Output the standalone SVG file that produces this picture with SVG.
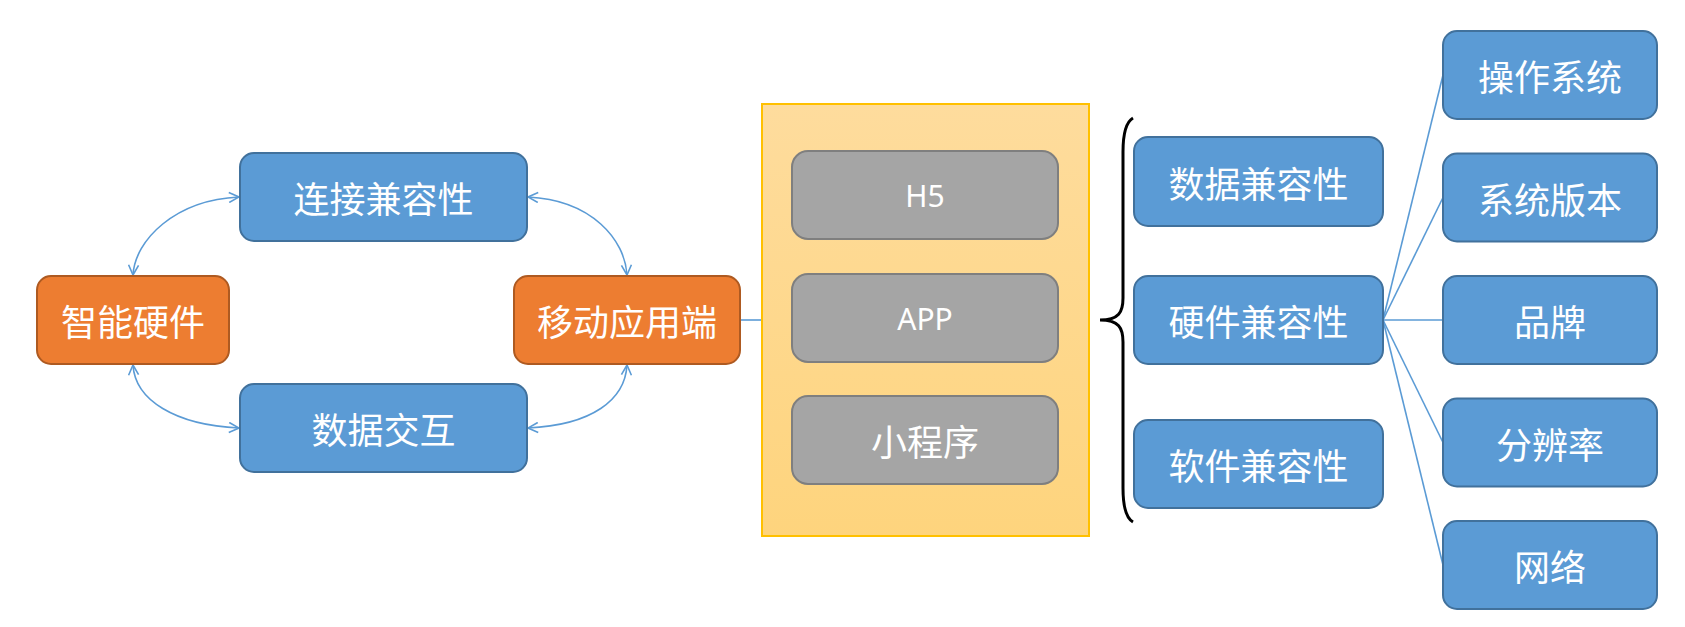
<svg xmlns="http://www.w3.org/2000/svg" width="1685" height="627" viewBox="0 0 1685 627">
<style>
.blue{fill:#5b9bd5;stroke:#41719c;stroke-width:2}
.orange{fill:#ed7d31;stroke:#ae5a21;stroke-width:2}
.gray{fill:#a5a5a5;stroke:#7f7f7f;stroke-width:2}
.t{font-family:"Noto Sans CJK SC","Noto Sans",sans-serif;font-size:36px;fill:#ffffff;text-anchor:middle;dominant-baseline:central}
.tl{font-family:"Noto Sans","Noto Sans CJK SC",sans-serif;font-size:30px;fill:#ffffff;text-anchor:middle;dominant-baseline:central}
.conn{fill:none;stroke:#5b9bd5;stroke-width:1.6}
</style>
<defs>
<linearGradient id="yg" x1="0" y1="0" x2="0" y2="1">
<stop offset="0" stop-color="#fedc9d"/>
<stop offset="1" stop-color="#fed47d"/>
</linearGradient>
<marker id="arr" viewBox="0 0 12 12" refX="11" refY="6" markerWidth="12" markerHeight="12" markerUnits="userSpaceOnUse" orient="auto-start-reverse">
<path d="M1,1 L11,6 L1,11" fill="none" stroke="#5b9bd5" stroke-width="1.6"/>
</marker>
</defs>
<rect width="1685" height="627" fill="#ffffff"/>

<g id="connectors">
<path class="conn" d="M133,275 C135,240 175,200 239,197" marker-start="url(#arr)" marker-end="url(#arr)"/>
<path class="conn" d="M627,275 C625,240 592,200 528,197" marker-start="url(#arr)" marker-end="url(#arr)"/>
<path class="conn" d="M133,365 C135,400 175,425 239,428" marker-start="url(#arr)" marker-end="url(#arr)"/>
<path class="conn" d="M627,365 C625,400 592,425 528,428" marker-start="url(#arr)" marker-end="url(#arr)"/>
<line class="conn" x1="740" y1="320" x2="762" y2="320"/>
<line class="conn" x1="1383" y1="320" x2="1443" y2="75"/>
<line class="conn" x1="1383" y1="320" x2="1443" y2="197.5"/>
<line class="conn" x1="1383" y1="320" x2="1443" y2="320"/>
<line class="conn" x1="1383" y1="320" x2="1443" y2="442.5"/>
<line class="conn" x1="1383" y1="320" x2="1443" y2="565"/>
</g>

<g id="brace">
<path d="M1133,118 C1126,122 1123,135 1123,152 L1123,298 C1123,312 1119,320 1100,320 C1119,320 1123,328 1123,342 L1123,488 C1123,505 1126,518 1133,522" fill="none" stroke="#000000" stroke-width="3"/>
</g>

<g id="node-smart-hw">
<rect class="orange" x="37" y="276" width="192" height="88" rx="14"/>
<text class="t" x="133" y="320">智能硬件</text>
</g>
<g id="node-conn-compat">
<rect class="blue" x="240" y="153" width="287" height="88" rx="14"/>
<text class="t" x="383.5" y="197">连接兼容性</text>
</g>
<g id="node-data-exchange">
<rect class="blue" x="240" y="384" width="287" height="88" rx="14"/>
<text class="t" x="383.5" y="428">数据交互</text>
</g>
<g id="node-mobile">
<rect class="orange" x="514" y="276" width="226" height="88" rx="14"/>
<text class="t" x="627" y="320">移动应用端</text>
</g>

<g id="node-container">
<rect x="762" y="104" width="327" height="432" fill="url(#yg)" stroke="#ffc000" stroke-width="2"/>
</g>
<g id="node-h5">
<rect class="gray" x="792" y="151" width="266" height="88" rx="16"/>
<text class="tl" x="925" y="195">H5</text>
</g>
<g id="node-app">
<rect class="gray" x="792" y="274" width="266" height="88" rx="16"/>
<text class="tl" x="925" y="318">APP</text>
</g>
<g id="node-mini">
<rect class="gray" x="792" y="396" width="266" height="88" rx="16"/>
<text class="t" x="925" y="440">小程序</text>
</g>

<g id="node-data-compat">
<rect class="blue" x="1134" y="137" width="249" height="89" rx="14"/>
<text class="t" x="1258.5" y="181.5">数据兼容性</text>
</g>
<g id="node-hw-compat">
<rect class="blue" x="1134" y="276" width="249" height="88" rx="14"/>
<text class="t" x="1258.5" y="320">硬件兼容性</text>
</g>
<g id="node-sw-compat">
<rect class="blue" x="1134" y="420" width="249" height="88" rx="14"/>
<text class="t" x="1258.5" y="464">软件兼容性</text>
</g>

<g id="node-os">
<rect class="blue" x="1443" y="31" width="214" height="88" rx="14"/>
<text class="t" x="1550" y="75">操作系统</text>
</g>
<g id="node-os-version">
<rect class="blue" x="1443" y="153.5" width="214" height="88" rx="14"/>
<text class="t" x="1550" y="197.5">系统版本</text>
</g>
<g id="node-brand">
<rect class="blue" x="1443" y="276" width="214" height="88" rx="14"/>
<text class="t" x="1550" y="320">品牌</text>
</g>
<g id="node-resolution">
<rect class="blue" x="1443" y="398.5" width="214" height="88" rx="14"/>
<text class="t" x="1550" y="442.5">分辨率</text>
</g>
<g id="node-network">
<rect class="blue" x="1443" y="521" width="214" height="88" rx="14"/>
<text class="t" x="1550" y="565">网络</text>
</g>
</svg>
